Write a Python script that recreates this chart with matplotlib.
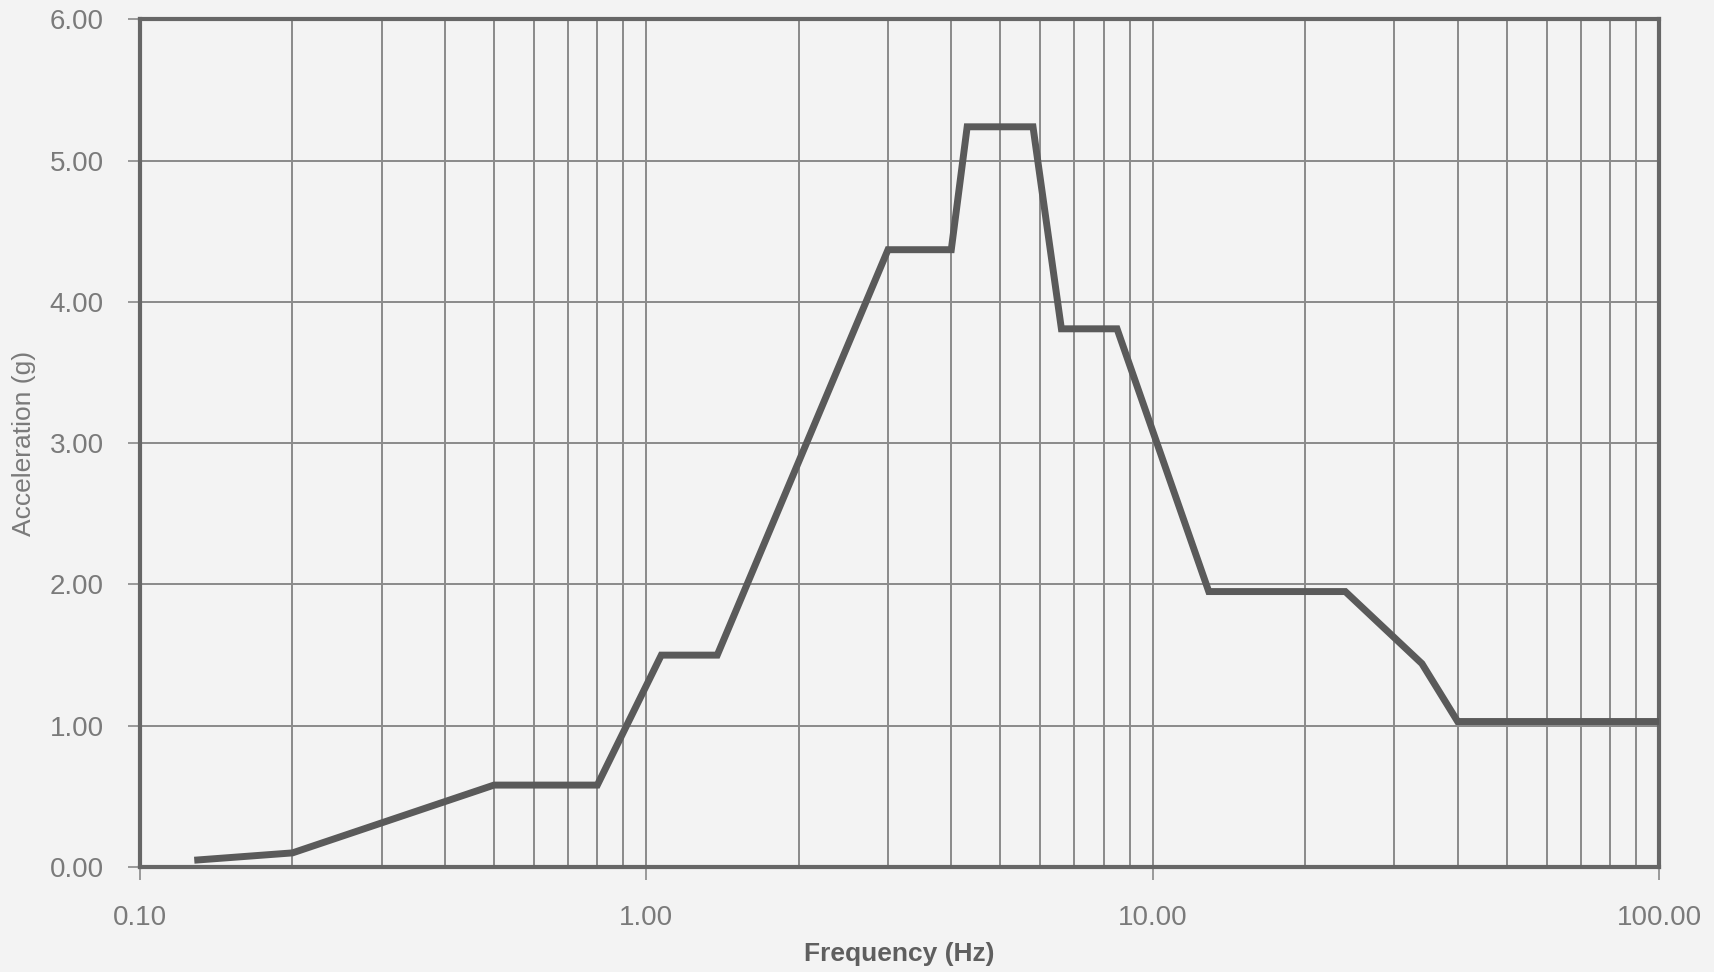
import matplotlib
matplotlib.use("Agg")
import matplotlib.pyplot as plt
from matplotlib.ticker import FixedLocator, LogLocator, NullFormatter

# response spectrum
freq = [0.13, 0.2, 0.5, 0.8, 1.07, 1.38, 3.0, 4.0, 4.3, 5.8, 6.6, 8.5,
        12.9, 24.0, 34.0, 40.0, 100.0]
accel = [0.05, 0.10, 0.58, 0.58, 1.50, 1.50, 4.37, 4.37, 5.24, 5.24, 3.81, 3.81,
         1.95, 1.95, 1.44, 1.03, 1.03]

x_ticks = [0.1, 1.0, 10.0, 100.0]
x_labels = ["0.10", "1.00", "10.00", "100.00"]
y_ticks = [0, 1, 2, 3, 4, 5, 6]
y_labels = ["%.2f" % v for v in y_ticks]

plt.rcParams['font.family'] = ['Liberation Sans', 'DejaVu Sans']

fig = plt.figure(figsize=(17.14, 9.72), dpi=100, facecolor='#f3f3f3')
ax = fig.add_axes([0.0817, 0.108, 0.8863, 0.872])
ax.set_facecolor('#f3f3f3')

ax.plot(freq, accel, color='#5a5a5a', linewidth=5, solid_joinstyle='miter', zorder=3)

ax.set_xscale('log')
ax.set_xlim(0.1, 100)
ax.set_ylim(0, 6)

ax.xaxis.set_major_locator(FixedLocator(x_ticks))
ax.set_xticklabels(x_labels)
ax.xaxis.set_minor_locator(LogLocator(base=10, subs=range(2, 10)))
ax.xaxis.set_minor_formatter(NullFormatter())
ax.set_yticks(y_ticks)
ax.set_yticklabels(y_labels)

ax.grid(which='major', color='#8a8a8a', linewidth=1.4)
ax.grid(which='minor', axis='x', color='#8a8a8a', linewidth=1.4)

for s in ax.spines.values():
    s.set_color('#666666')
    s.set_linewidth(3)

ax.tick_params(axis='both', which='major', length=9, width=1.2, color='#8a8a8a',
               labelsize=20, labelcolor='#7a7a7a')
ax.tick_params(axis='y', pad=17)
ax.tick_params(axis='x', pad=18)
ax.tick_params(axis='x', which='minor', length=0)

ax.set_xlabel('Frequency (Hz)', fontsize=19, fontweight='bold', color='#5f5f5f', labelpad=8)
ax.set_ylabel('Acceleration (g)', fontsize=19, color='#7a7a7a', labelpad=10)

fig.savefig('out.png', dpi=100, facecolor=fig.get_facecolor())
